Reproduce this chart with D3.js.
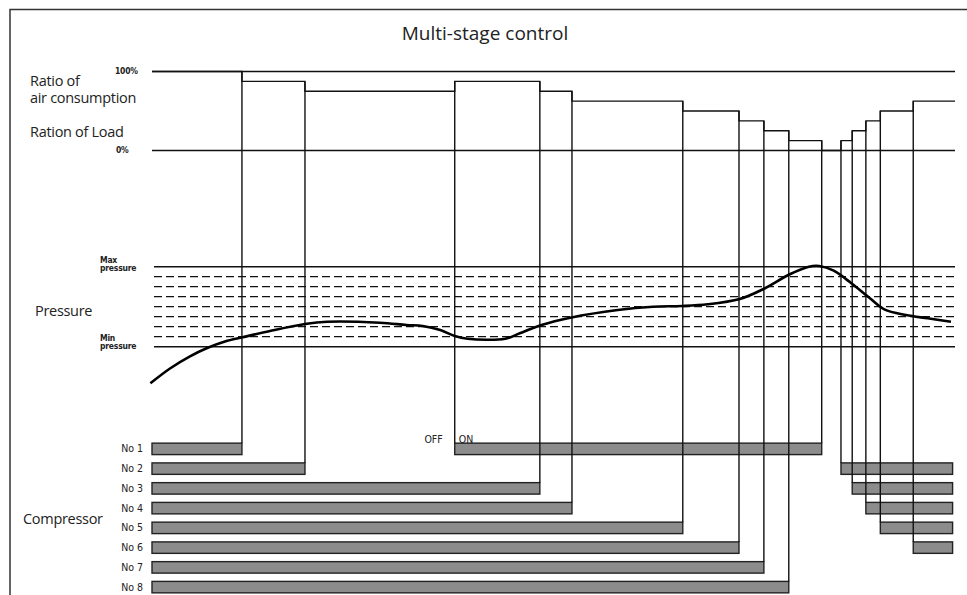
<!DOCTYPE html>
<html>
<head>
<meta charset="utf-8">
<script src="https://cdn.jsdelivr.net/npm/d3@7"></script>
<style>
  body { margin: 0; background: #fff; }
  svg { display: block; }
  .lbl { font-family: "Open Sans", sans-serif; fill: #222; }
  .tiny { font-family: "Liberation Sans Narrow", "DejaVu Sans Condensed", sans-serif; fill: #222; }
</style>
</head>
<body>
<svg id="chart" width="967" height="595"></svg>
<script>
// Multi-stage control: load steps, pressure band and compressor on/off timeline

const compressors = ["No1", "No2", "No3", "No4", "No5", "No6", "No7", "No8"];

// running intervals of each compressor, time as % of the window
const windowEnd = 99.7;
const runsNo1 = [[0, 11.2], [37.7, 83.4]];
const runsNo2 = [[0, 19.05], [85.8, windowEnd]];
const runsNo3 = [[0, 48.3], [87.2, windowEnd]];
const runsNo4 = [[0, 52.3], [88.9, windowEnd]];
const runsNo5 = [[0, 66.1], [90.7, windowEnd]];
const runsNo6 = [[0, 73.1], [94.8, windowEnd]];
const runsNo7 = [[0, 76.2]];
const runsNo8 = [[0, 79.3]];
const runs = [runsNo1, runsNo2, runsNo3, runsNo4, runsNo5, runsNo6, runsNo7, runsNo8];

// pressure curve, level 0 = min pressure, 8 = max pressure
const pressureTime  = [-0.2, 2.24, 4.73, 6.8, 9.09, 11.3, 14.7, 19.05, 21.8, 28.4, 31.7, 33.7, 35.9, 37.7,
                       39.3, 44.0, 45.8, 48.5, 52.1, 58.0, 62.4, 66.0, 69.2, 73.2, 75.9, 79.5, 81.8, 83.1,
                       84.9, 87.1, 89.4, 91.2, 93.9, 96.6, 99.5];
const pressureValue = [-3.66, -2.18, -0.97, -0.16, 0.51, 0.94, 1.57, 2.27, 2.5, 2.4, 2.17, 2.07, 1.67, 1.07,
                       0.8, 0.8, 1.34, 2.17, 2.9, 3.67, 4.0, 4.07, 4.24, 4.77, 5.67, 7.27, 8.0, 8.07,
                       7.6, 6.34, 4.84, 3.74, 3.17, 2.84, 2.5];
const pressureLevels = [0, 1, 2, 3, 4, 5, 6, 7, 8];

const svg = d3.select("#chart");

const x = d3.scaleLinear().domain([0, 100]).range([152, 955]);
const yLoad = d3.scaleLinear().domain([0, compressors.length]).range([150.5, 71.5]);
const yP = d3.scaleLinear().domain([0, 8]).range([346.7, 266.7]);
const yRow = d3.scaleBand().domain(compressors).range([439, 597]).paddingInner(0.42).paddingOuter(0.21);

// frame
svg.append("path")
    .attr("d", "M10,597V9.5H967")
    .attr("fill", "none").attr("stroke", "#333").attr("stroke-width", 1.5);

svg.append("text").attr("class", "lbl")
    .attr("x", 485).attr("y", 40).attr("text-anchor", "middle")
    .attr("font-size", 19).text("Multi-stage control");

// load section
svg.selectAll(".ref").data([0, compressors.length]).enter().append("line")
    .attr("x1", x(0)).attr("x2", x(100))
    .attr("y1", d => yLoad(d)).attr("y2", d => yLoad(d))
    .attr("stroke", "#111").attr("stroke-width", 1.4);

// events from on/off intervals
const events = [];
runs.forEach((list, i) => {
    list.forEach(([s, e]) => {
        if (s > 0) events.push({t: s, comp: compressors[i], d: 1});
        if (e < windowEnd) events.push({t: e, comp: compressors[i], d: -1});
    });
});
events.sort((a, b) => a.t - b.t);

let running = runs.filter(list => list[0][0] === 0).length;
const steps = [[0, running]];
events.forEach(ev => {
    ev.before = running;
    running += ev.d;
    ev.after = running;
    steps.push([ev.t, ev.before], [ev.t, ev.after]);
});
steps.push([100, running]);

svg.append("path")
    .datum(steps)
    .attr("d", d3.line().x(d => x(d[0])).y(d => yLoad(d[1])))
    .attr("fill", "none").attr("stroke", "#111").attr("stroke-width", 1.4);

// pressure band
svg.selectAll(".plevel").data(pressureLevels).enter().append("line")
    .attr("x1", x(0) + 2).attr("x2", x(100))
    .attr("y1", d => yP(d)).attr("y2", d => yP(d))
    .attr("stroke", "#111")
    .attr("stroke-width", d => (d === 0 || d === 8) ? 1.4 : 1.2)
    .attr("stroke-dasharray", d => (d === 0 || d === 8) ? null : "8,4");

// compressor bars
const bars = [];
runs.forEach((list, i) => list.forEach(([s, e]) => bars.push({comp: compressors[i], s, e})));

svg.selectAll(".bar").data(bars).enter().append("rect")
    .attr("x", d => x(d.s)).attr("width", d => x(d.e) - x(d.s))
    .attr("y", d => yRow(d.comp)).attr("height", yRow.bandwidth())
    .attr("fill", "#8c8c8c").attr("stroke", "#222").attr("stroke-width", 1.4);

// verticals linking each switch to its bar
svg.selectAll(".link").data(events).enter().append("line")
    .attr("x1", d => x(d.t)).attr("x2", d => x(d.t))
    .attr("y1", d => yLoad(Math.max(d.before, d.after)))
    .attr("y2", d => yRow(d.comp))
    .attr("stroke", "#111").attr("stroke-width", 1.4);

// pressure curve
const pts = pressureTime.map((t, i) => [t, pressureValue[i]]);
svg.append("path")
    .datum(pts)
    .attr("d", d3.line().x(d => x(d[0])).y(d => yP(d[1])).curve(d3.curveCatmullRom))
    .attr("fill", "none").attr("stroke", "#000").attr("stroke-width", 2.6);

// left labels
const big = [
    {t: "Ratio of", x: 30, y: 85.5},
    {t: "air consumption", x: 30, y: 103},
    {t: "Ration of Load", x: 30, y: 137},
    {t: "Pressure", x: 35, y: 316},
    {t: "Compressor", x: 23, y: 524}
];
svg.selectAll(".big").data(big).enter().append("text")
    .attr("class", "lbl").attr("font-size", 14.5).attr("letter-spacing", -0.3)
    .attr("x", d => d.x).attr("y", d => d.y).text(d => d.t);

const small = [
    {t: "100%", x: 115, y: 74},
    {t: "0%", x: 116, y: 153},
    {t: "Max", x: 100, y: 262.5},
    {t: "pressure", x: 100, y: 271},
    {t: "Min", x: 100, y: 340.5},
    {t: "pressure", x: 100, y: 349}
];
svg.selectAll(".small").data(small).enter().append("text")
    .attr("class", "tiny").attr("font-size", 8.5).attr("font-weight", "bold")
    .attr("letter-spacing", -0.2)
    .attr("x", d => d.x).attr("y", d => d.y).text(d => d.t);

svg.selectAll(".rowlbl").data(compressors).enter().append("text")
    .attr("class", "tiny").attr("font-size", 10.5)
    .attr("x", 143).attr("y", d => yRow(d) + yRow.bandwidth() / 2 + 3.5)
    .attr("text-anchor", "end").text(d => d.replace("No", "No "));

const restart = events.find(ev => ev.comp === "No1" && ev.d === 1);
svg.append("text").attr("class", "tiny").attr("font-size", 10.5)
    .attr("x", x(restart.t) - 12).attr("y", 442.5).attr("text-anchor", "end").text("OFF");
svg.append("text").attr("class", "tiny").attr("font-size", 10.5)
    .attr("x", x(restart.t) + 4).attr("y", 442.5).text("ON");
</script>
</body>
</html>
